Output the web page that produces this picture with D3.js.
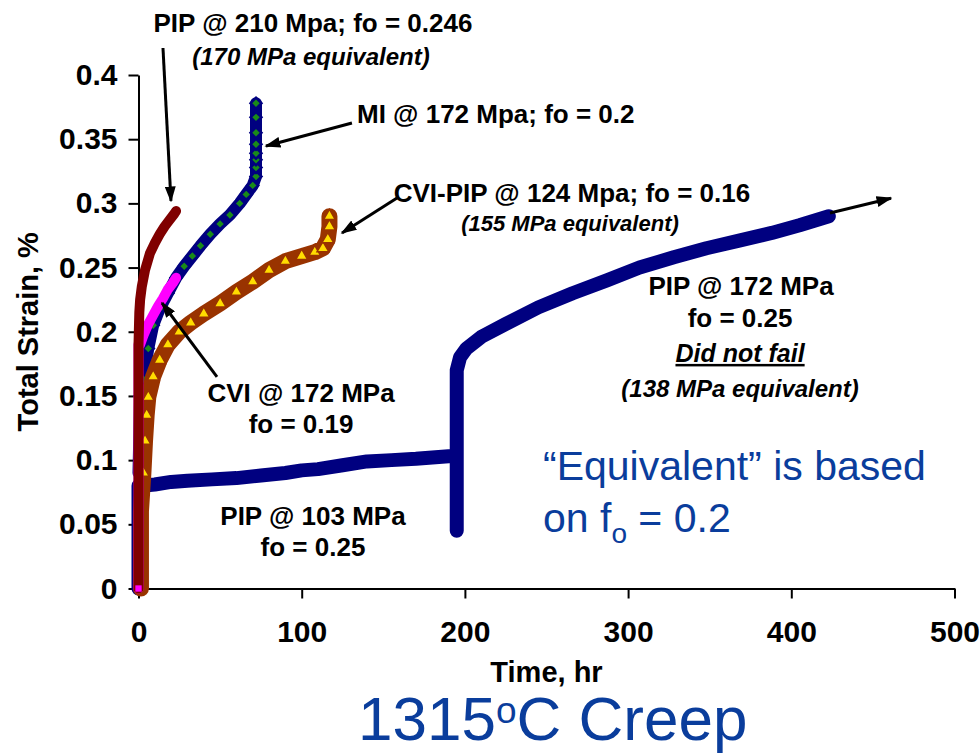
<!DOCTYPE html>
<html>
<head>
<meta charset="utf-8">
<script src="https://cdn.jsdelivr.net/npm/d3@7"></script>
<style>
  body { margin: 0; background: #fff; }
  svg text { font-family: "Liberation Sans", Arial, sans-serif; }
  .axis path, .axis line { stroke: #000; stroke-width: 2; }
  .axis text { font-size: 30px; font-weight: bold; fill: #000; }
  .note { font-size: 26px; font-weight: bold; fill: #000; }
  .note.it { font-style: italic; }
  .blue { fill: #0a3d9c; }
</style>
</head>
<body>
<svg id="chart" width="980" height="753"></svg>
<script>
// Time (hr) / total strain (%) pairs
const pip103Time = [0, 0, 2, 10, 20, 30, 45, 60, 75, 90, 100, 110, 125, 140, 155, 170, 180, 190, 193];
const pip103Strain = [0, 0.08, 0.08, 0.081, 0.083, 0.084, 0.085, 0.086, 0.088, 0.09, 0.092, 0.093, 0.096, 0.099, 0.1, 0.101, 0.102, 0.103, 0.103];

const pip172Time = [195, 195, 197, 201, 210, 225, 245, 266, 287, 307, 328, 348, 368, 388, 405, 423];
const pip172Strain = [0.045, 0.17, 0.18, 0.187, 0.196, 0.206, 0.219, 0.23, 0.24, 0.25, 0.258, 0.265, 0.271, 0.277, 0.283, 0.29];

const miTime = [0, 1, 3, 6, 9, 13, 18, 23, 28, 33, 38, 44, 50, 56, 62, 66, 70, 72, 72, 72, 72, 72, 72, 72, 72];
const miStrain = [0.09, 0.15, 0.163, 0.187, 0.205, 0.218, 0.23, 0.242, 0.251, 0.259, 0.267, 0.276, 0.284, 0.291, 0.3, 0.307, 0.314, 0.321, 0.328, 0.334, 0.339, 0.346, 0.355, 0.367, 0.378];

const cviPipTime = [1.5, 1.5, 3, 4, 5, 6, 9, 13, 18, 25, 32, 40, 50, 60, 70, 80, 90, 100, 108, 113, 116, 117, 117];
const cviPipStrain = [0, 0.06, 0.09, 0.115, 0.135, 0.149, 0.165, 0.178, 0.19, 0.2, 0.207, 0.214, 0.222, 0.231, 0.239, 0.248, 0.255, 0.259, 0.262, 0.265, 0.272, 0.282, 0.29];

const cviTime = [0, 0, 1, 3, 6, 9, 12, 15, 18, 21, 23];
const cviStrain = [0, 0.19, 0.19, 0.197, 0.206, 0.213, 0.22, 0.226, 0.233, 0.238, 0.242];

const pip210Time = [0, 0, 0.2, 0.5, 1, 2, 4, 7, 10, 13, 16, 19, 22, 23];
const pip210Strain = [0, 0.19, 0.2, 0.215, 0.225, 0.235, 0.248, 0.261, 0.269, 0.276, 0.282, 0.287, 0.292, 0.294];

const xTicks = [0, 100, 200, 300, 400, 500];
const yTicks = [0, 0.05, 0.1, 0.15, 0.2, 0.25, 0.3, 0.35, 0.4];

const zip = (t, s) => t.map((d, i) => [d, s[i]]);

// drawing order: back to front
const series = [
  { data: zip(pip103Time, pip103Strain), color: '#000080', width: 14 },
  { data: zip(pip172Time, pip172Strain), color: '#000080', width: 14 },
  { data: zip(miTime, miStrain), color: '#000080', width: 12, marker: 'diamond' },
  { data: zip(cviPipTime, cviPipStrain), color: '#993300', width: 16, marker: 'triangle' },
  { data: zip(cviTime, cviStrain), color: '#ff00ff', width: 10 },
  { data: zip(pip210Time, pip210Strain), color: '#800000', width: 10 },
];

// annotations in data units: [time, strain]
const labels = [
  { at: [106.9, 0.4335], text: 'PIP @ 210 Mpa; fo = 0.246' },
  { at: [105.7, 0.4078], text: '(170 MPa equivalent)', it: true, size: 24 },
  { at: [133.9, 0.3626], text: 'MI @ 172 Mpa; fo = 0.2', anchor: 'start' },
  { at: [265.6, 0.3011], text: 'CVI-PIP @ 124 Mpa; fo = 0.16' },
  { at: [264.4, 0.2785], text: '(155 MPa equivalent)', it: true, size: 22 },
  { at: [369.2, 0.2286], text: 'PIP @ 172 MPa' },
  { at: [368.6, 0.2037], text: 'fo = 0.25' },
  { at: [368.6, 0.1765], text: 'Did not fail', it: true, under: true, size: 25 },
  { at: [368.6, 0.1492], text: '(138 MPa equivalent)', it: true, size: 24 },
  { at: [99.6, 0.1453], text: 'CVI @ 172 MPa' },
  { at: [99.6, 0.1211], text: 'fo = 0.19' },
  { at: [106.9, 0.0495], text: 'PIP @ 103 MPa' },
  { at: [106.9, 0.0253], text: 'fo = 0.25' },
];

const arrows = [
  { from: [15.0, 0.421], to: [19.9, 0.302] },
  { from: [130.8, 0.3626], to: [78.1, 0.3447] },
  { from: [158.4, 0.3042], to: [124.7, 0.277] },
  { from: [423.7, 0.2925], to: [461.1, 0.304] },
  { from: [48.1, 0.1648], to: [14.4, 0.2224] },
];

const svg = d3.select('#chart');
const margin = { top: 75, right: 25.5, bottom: 164.5, left: 138.5 };
const width = 980 - margin.left - margin.right;
const height = 753 - margin.top - margin.bottom;

const x = d3.scaleLinear().domain([0, 500]).range([margin.left, margin.left + width]);
const y = d3.scaleLinear().domain([0, 0.4]).range([margin.top + height, margin.top]);

const defs = svg.append('defs');
defs.append('marker')
  .attr('id', 'arrow')
  .attr('viewBox', '0 0 10 10')
  .attr('refX', 9)
  .attr('refY', 5)
  .attr('markerWidth', 16)
  .attr('markerHeight', 11)
  .attr('markerUnits', 'userSpaceOnUse')
  .attr('preserveAspectRatio', 'none')
  .attr('orient', 'auto')
  .append('path')
  .attr('d', 'M0,0L10,5L0,10z')
  .attr('fill', '#000');

// Axes
svg.append('g')
  .attr('class', 'axis x-axis')
  .attr('transform', `translate(0,${y(0)})`)
  .call(d3.axisBottom(x).tickValues(xTicks).tickSize(10).tickSizeOuter(0).tickPadding(22));

svg.append('g')
  .attr('class', 'axis y-axis')
  .attr('transform', `translate(${x(0)},0)`)
  .call(d3.axisLeft(y).tickValues(yTicks).tickSize(10).tickSizeOuter(0).tickPadding(11)
    .tickFormat(d3.format('~g')));

svg.append('text')
  .attr('x', (x(0) + x(500)) / 2)
  .attr('y', 682)
  .attr('text-anchor', 'middle')
  .style('font-size', '29px')
  .style('font-weight', 'bold')
  .text('Time, hr');

svg.append('text')
  .attr('transform', `translate(38,${(y(0) + y(0.4)) / 2}) rotate(-90)`)
  .attr('text-anchor', 'middle')
  .style('font-size', '29px')
  .style('font-weight', 'bold')
  .text('Total Strain, %');

// Curves
const line = d3.line().x((d) => x(d[0])).y((d) => y(d[1]));
const plot = svg.append('g').attr('class', 'data-group');

series.forEach((s) => {
  plot.append('path')
    .datum(s.data)
    .attr('d', line)
    .attr('fill', 'none')
    .attr('stroke', s.color)
    .attr('stroke-width', s.width)
    .attr('stroke-linejoin', 'round')
    .attr('stroke-linecap', 'round');

  if (s.marker === 'diamond') {
    plot.append('g').selectAll('path')
      .data(s.data.slice(1))
      .join('path')
      .attr('d', d3.symbol(d3.symbolSquare, 60))
      .attr('transform', (d) => `translate(${x(d[0])},${y(d[1])}) rotate(45)`)
      .attr('fill', '#1a8a1a')
      .attr('stroke', '#000080')
      .attr('stroke-width', 2.5);
  } else if (s.marker === 'triangle') {
    plot.append('g').selectAll('path')
      .data(s.data.slice(2))
      .join('path')
      .attr('d', d3.symbol(d3.symbolTriangle, 60))
      .attr('transform', (d) => `translate(${x(d[0])},${y(d[1])})`)
      .attr('fill', '#ffdd00')
      .attr('stroke', '#993300')
      .attr('stroke-width', 1.5);
  }
});

// small magenta marker left at the CVI origin
plot.append('path')
  .attr('d', d3.symbol(d3.symbolSquare, 40))
  .attr('transform', `translate(${x(cviTime[0])},${y(cviStrain[0])})`)
  .attr('fill', '#ff00ff');

// Annotations
svg.append('g').selectAll('line')
  .data(arrows)
  .join('line')
  .attr('x1', (d) => x(d.from[0]))
  .attr('y1', (d) => y(d.from[1]))
  .attr('x2', (d) => x(d.to[0]))
  .attr('y2', (d) => y(d.to[1]))
  .attr('stroke', '#000')
  .attr('stroke-width', 3)
  .attr('marker-end', 'url(#arrow)');

svg.append('g').selectAll('text')
  .data(labels)
  .join('text')
  .attr('class', (d) => (d.it ? 'note it' : 'note'))
  .attr('x', (d) => x(d.at[0]))
  .attr('y', (d) => y(d.at[1]))
  .attr('text-anchor', (d) => d.anchor || 'middle')
  .style('font-size', (d) => (d.size || 26) + 'px')
  .style('text-decoration', (d) => (d.under ? 'underline' : null))
  .text((d) => d.text);

// Blue note
const note = svg.append('g').attr('class', 'blue').style('font-size', '41px');
note.append('text').attr('x', 543).attr('y', 480).text('\u201CEquivalent\u201D is based');
const note2 = note.append('text').attr('x', 543).attr('y', 532);
note2.append('tspan').text('on f');
note2.append('tspan').attr('dy', 11).style('font-size', '28px').text('o');
note2.append('tspan').attr('dy', -11).text(' = 0.2');

// Title
const title = svg.append('text').attr('class', 'blue').attr('x', 358).attr('y', 740).style('font-size', '62px');
title.append('tspan').text('1315');
title.append('tspan').attr('dy', -17).style('font-size', '37px').text('o');
title.append('tspan').attr('dy', 17).text('C Creep');
</script>
</body>
</html>
